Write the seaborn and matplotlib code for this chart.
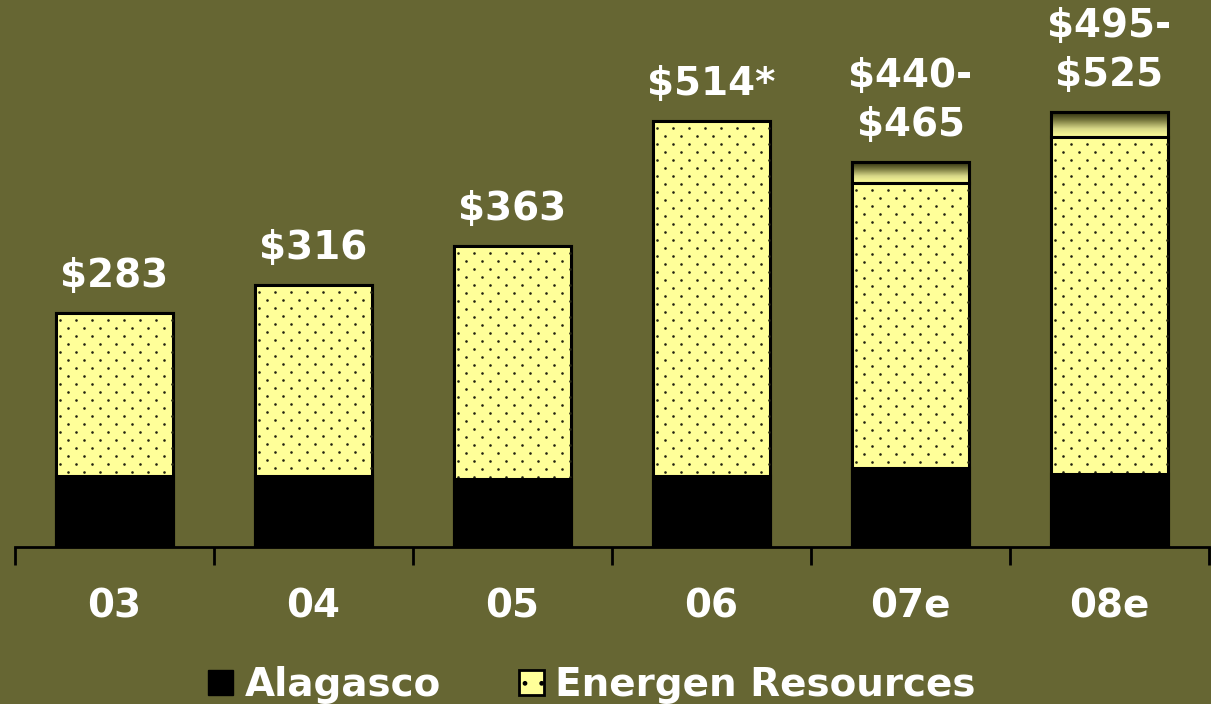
import numpy as np
import pandas as pd
import seaborn as sns
from matplotlib import pyplot as plt
from matplotlib.patches import Patch
from matplotlib.colors import LinearSegmentedColormap

years = ["03", "04", "05", "06", "07e", "08e"]
alagasco = [86, 86, 82, 86, 95, 88]
total_low = [283, 316, 363, 514, 440, 495]
total_high = [283, 316, 363, 514, 465, 525]
labels = ["$283", "$316", "$363", "$514*", "$440-\n$465", "$495-\n$525"]

bg = "#666633"
yellow = "#FFFF99"

sns.set_style("white")
plt.rcParams["font.family"] = ["DejaVu Sans"]
plt.rcParams["font.weight"] = "bold"
plt.rcParams["hatch.color"] = "#333322"
plt.rcParams["hatch.linewidth"] = 1.0

df = pd.DataFrame({"year": years, "alagasco": alagasco,
                   "low": total_low, "high": total_high})

fig = plt.figure(figsize=(12.11, 7.04), dpi=100, facecolor=bg)
ax = fig.add_axes([0.0124, 0.223, 0.986, 0.706])
ax.set_facecolor(bg)
ax.set_xlim(-0.5, 5.5)
ax.set_ylim(0, 600)

# range bars (estimate ranges) with gradient fill
sns.barplot(data=df, x="year", y="high", color=yellow, width=0.59,
            edgecolor="black", linewidth=2.2, saturation=1, ax=ax)
range_patches = list(ax.patches)
grad = np.linspace(0, 1, 256).reshape(-1, 1)
cmap = LinearSegmentedColormap.from_list("g", ["#2a2a0a", "#7a7a40", "#d8d888", yellow])
for p, lo in zip(range_patches, total_low):
    x0, w = p.get_x(), p.get_width()
    top = p.get_y() + p.get_height()
    if top > lo:
        im = ax.imshow(grad, cmap=cmap, aspect="auto", origin="upper",
                       extent=(x0, x0 + w, lo, top), zorder=2.1)
        im.set_clip_path(p)
        ax.bar(x0 + w / 2, top - lo, bottom=lo, width=w, fill=False,
               edgecolor="black", linewidth=2.2, zorder=2.2)

# Energen Resources (stacked total)
n_before = len(ax.patches)
sns.barplot(data=df, x="year", y="low", color=yellow, width=0.59,
            edgecolor="black", linewidth=2.2, saturation=1, ax=ax)
ax.set_xlim(-0.5, 5.5)
ax.set_ylim(0, 600)
energen_patches = ax.patches[n_before:]
inv = ax.transData.inverted()
for p in energen_patches:
    p.set_zorder(3)
    # dotted texture: staggered rows, 16 px apart in a row, 8 px between rows
    bb = p.get_window_extent()
    pts = []
    for r, yy in enumerate(np.arange(bb.y1 - 7, bb.y0, -8.0)):
        off = 4 if r % 2 == 0 else 12
        for xx in np.arange(bb.x0 + off, bb.x1, 16.0):
            pts.append((xx, yy))
    pts = inv.transform(np.array(pts))
    ax.scatter(pts[:, 0], pts[:, 1], s=3.5, color="#222211", linewidths=0,
               zorder=3.1, clip_path=p)

# Alagasco
n_before = len(ax.patches)
sns.barplot(data=df, x="year", y="alagasco", color="black", width=0.59,
            edgecolor="black", linewidth=2.2, saturation=1, ax=ax)
for p in ax.patches[n_before:]:
    p.set_zorder(4)

for i, (h, lab) in enumerate(zip(total_high, labels)):
    ax.annotate(lab, (i, h), xytext=(0, 13), textcoords="offset points",
                ha="center", va="bottom", color="white", fontsize=28,
                fontweight="bold", linespacing=1.36)

ax.set_xlim(-0.5, 5.5)
ax.set_ylim(0, 600)
ax.set_xlabel("")
ax.set_ylabel("")
ax.set_yticks([])
for s in ["top", "right", "left"]:
    ax.spines[s].set_visible(False)
ax.spines["bottom"].set_linewidth(2)
ax.spines["bottom"].set_color("black")
ax.set_xticks(np.arange(6))
ax.set_xticklabels(years, color="white", fontsize=28, fontweight="bold")
ax.tick_params(axis="x", which="major", bottom=False, length=0, pad=29)
ax.set_xticks(np.arange(-0.5, 6, 1), minor=True)
ax.tick_params(axis="x", which="minor", bottom=True, length=13, width=2,
               color="black", direction="out")

handles = [Patch(facecolor="black", edgecolor="black", label="Alagasco"),
           Patch(facecolor=yellow, edgecolor="black", hatch=".", linewidth=2,
                 label="Energen Resources")]
fig.legend(handles=handles, loc="lower center", bbox_to_anchor=(0.489, -0.05),
           ncol=2, frameon=False, labelcolor="white",
           handlelength=0.64, handleheight=0.64, handletextpad=0.3,
           columnspacing=2.0, prop={"weight": "bold", "size": 28})

fig.savefig("out.png", dpi=100, facecolor=bg)
